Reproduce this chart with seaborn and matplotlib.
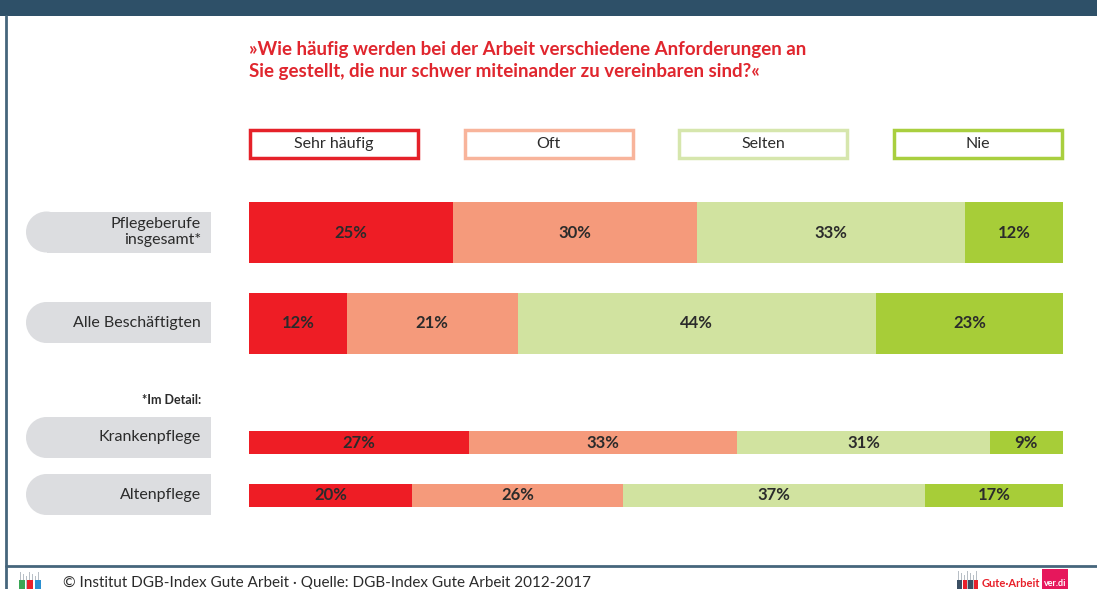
import numpy as np
import pandas as pd
import seaborn as sns
import matplotlib.pyplot as plt
from matplotlib.patches import Rectangle, Ellipse

sns.set_theme(style="white")
plt.rcParams['font.family'] = ['Lato', 'DejaVu Sans']

# data
categories = ["Pflegeberufe\ninsgesamt*", "Alle Beschäftigten", "Krankenpflege", "Altenpflege"]
answers = ["Sehr häufig", "Oft", "Selten", "Nie"]
sehr_haeufig = [25, 12, 27, 20]
oft = [30, 21, 33, 26]
selten = [33, 44, 31, 37]
nie = [12, 23, 9, 17]

bar_colors = ["#ee1d25", "#f59a7b", "#d1e3a0", "#a7cd38"]
edge_colors = ["#e52129", "#f8b49b", "#d6e6ad", "#a9cf3f"]
dark = "#2b2b2b"
title_red = "#e0262e"

W, H = 1097, 589
fig = plt.figure(figsize=(W / 100, H / 100), dpi=100)

# background layer in pixel coordinates
bg = fig.add_axes([0, 0, 1, 1])
bg.set_xlim(0, W)
bg.set_ylim(H, 0)
bg.axis("off")

# frame
bg.add_patch(Rectangle((0, 0), W, 16, color="#2e5068", lw=0))
bg.plot([6, 6], [16, H], color="#46667c", lw=2)
bg.plot([6, W], [566, 566], color="#46667c", lw=2)

# title
bg.text(249, 55, "»Wie häufig werden bei der Arbeit verschiedene Anforderungen an",
        color=title_red, fontsize=13.5, fontweight="bold", va="baseline", ha="left")
bg.text(249, 77, "Sie gestellt, die nur schwer miteinander zu vereinbaren sind?«",
        color=title_red, fontsize=13.5, fontweight="bold", va="baseline", ha="left")

# legend boxes
for i, (name, ec) in enumerate(zip(answers, edge_colors)):
    x0 = 250 + i * 214.5
    bg.add_patch(Rectangle((x0, 130), 168, 28, facecolor="white", edgecolor=ec, lw=2.5))
    bg.text(x0 + 84, 144, name, color=dark, fontsize=11.5, ha="center", va="center")

# category pills
pill_centers = [232, 322.5, 437.5, 494.5]
for cat, cy in zip(categories, pill_centers):
    bg.add_patch(Ellipse((46.5, cy), 41, 41, color="#dcdde0", lw=0))
    bg.add_patch(Rectangle((46.5, cy - 20.5), 164.5, 41, color="#dcdde0", lw=0))
    bg.text(201, cy, cat, color=dark, fontsize=11.5, ha="right", va="center",
            multialignment="right", linespacing=1.1)
bg.text(201, 400, "*Im Detail:", color=dark, fontsize=9, fontweight="bold",
        ha="right", va="center")

# footer
bg.text(63, 587, "© Institut DGB-Index Gute Arbeit · Quelle: DGB-Index Gute Arbeit 2012-2017",
        color=dark, fontsize=11, ha="left", va="baseline")
for k in range(7):
    bg.add_patch(Rectangle((20 + k * 3, 572 + (k % 3) * 2), 1.2, 16, color="#b8bfc6", lw=0))
for k, c in enumerate(["#3aa655", "#e8202a", "#2a8fd0"]):
    bg.add_patch(Rectangle((19 + k * 8, 580), 6, 9, color=c, lw=0))
for k in range(7):
    bg.add_patch(Rectangle((958 + k * 3, 571 + (k % 3) * 2), 1.2, 18, color="#b8bfc6", lw=0))
for k, c in enumerate(["#3b4f63", "#e8202a", "#3b4f63", "#e8202a"]):
    bg.add_patch(Rectangle((957 + k * 5.5, 580), 4.5, 9, color=c, lw=0))
bg.text(982, 587, "Gute·Arbeit", color="#e8202a", fontsize=8, fontweight="bold",
        ha="left", va="baseline")
bg.add_patch(Rectangle((1042, 569), 26, 20, color="#e6175c", lw=0))
bg.text(1055, 586, "ver.di", color="white", fontsize=6.5, fontweight="bold",
        ha="center", va="baseline")

# stacked bars: two groups with different bar thickness
df = pd.DataFrame({"cat": categories, "Sehr häufig": sehr_haeufig, "Oft": oft,
                   "Selten": selten, "Nie": nie})
cum = df[answers].cumsum(axis=1)

groups = [(df.index[:2], [249, 187, 814, 182], 0.67),
          (df.index[2:], [249, 416, 814, 106], 0.434)]
for idx, (px, py, pw, ph), width in groups:
    ax = fig.add_axes([px / W, 1 - (py + ph) / H, pw / W, ph / H])
    ax.patch.set_alpha(0)
    sub = df.loc[idx]
    sub_cum = cum.loc[idx]
    for j in range(len(answers) - 1, -1, -1):
        sns.barplot(x=sub_cum[answers[j]].values, y=sub["cat"].values, orient="h",
                    color=bar_colors[j], width=width, saturation=1, linewidth=0, ax=ax)
    for r, (_, row) in enumerate(sub.iterrows()):
        left = 0
        for a in answers:
            ax.text(left + row[a] / 2, r, f"{row[a]}%", color=dark, fontsize=12,
                    fontweight="bold", ha="center", va="center")
            left += row[a]
    ax.set_xlim(0, 100)
    ax.set_ylim(1.5, -0.5)
    ax.set_xlabel("")
    ax.set_ylabel("")
    ax.set_xticks([])
    ax.set_yticks([])
    sns.despine(ax=ax, left=True, bottom=True)

fig.savefig("out.png", dpi=100)
